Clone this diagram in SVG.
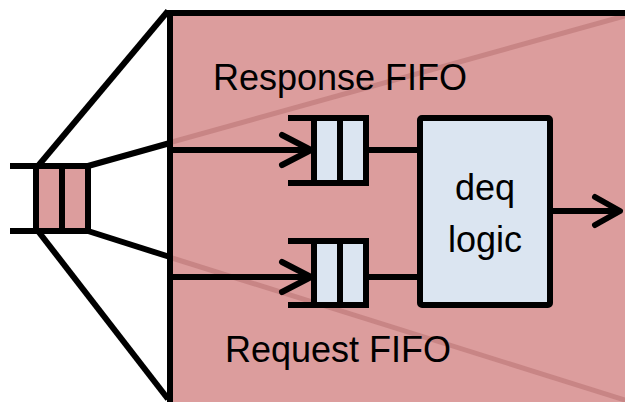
<svg xmlns="http://www.w3.org/2000/svg" width="625" height="402" viewBox="0 0 625 402">
<style>
.ln{stroke:#000;stroke-width:6;fill:none;stroke-linejoin:miter}
.ah{stroke:#000;stroke-width:6;fill:none;stroke-linecap:round;stroke-linejoin:round}
.pk{fill:#DC9D9D}
.bl{fill:#DBE5F1}
.diag{stroke:#C88585;stroke-width:5;fill:none}
.t{font-family:"Liberation Sans",Arial,sans-serif;font-size:36px;fill:#000}
</style>
<g id="region">
<rect class="pk" x="170" y="13" width="460" height="395"/>
<line class="diag" x1="172" y1="142" x2="628" y2="15"/>
<line class="diag" x1="172" y1="258" x2="628" y2="401"/>
<polyline class="ln" points="170,405 170,13 628,13"/>
<text class="t" x="213" y="90">Response FIFO</text>
<text class="t" x="225" y="362">Request FIFO</text>
</g>
<g id="input-fifo">
<rect class="pk" x="36" y="166" width="52" height="65"/>
<line class="ln" x1="10" y1="166" x2="91" y2="166"/>
<line class="ln" x1="10" y1="231" x2="91" y2="231"/>
<line class="ln" x1="36" y1="166" x2="36" y2="231"/>
<line class="ln" x1="62" y1="166" x2="62" y2="231"/>
<line class="ln" x1="88" y1="166" x2="88" y2="231"/>
</g>
<g id="response-fifo">
<rect class="bl" x="314" y="118" width="52" height="65"/>
<line class="ln" x1="288" y1="118" x2="369" y2="118"/>
<line class="ln" x1="288" y1="183" x2="369" y2="183"/>
<line class="ln" x1="314" y1="118" x2="314" y2="183"/>
<line class="ln" x1="340" y1="118" x2="340" y2="183"/>
<line class="ln" x1="366" y1="118" x2="366" y2="183"/>
</g>
<g id="request-fifo">
<rect class="bl" x="314" y="241" width="52" height="64"/>
<line class="ln" x1="288" y1="241" x2="369" y2="241"/>
<line class="ln" x1="288" y1="305" x2="369" y2="305"/>
<line class="ln" x1="314" y1="241" x2="314" y2="305"/>
<line class="ln" x1="340" y1="241" x2="340" y2="305"/>
<line class="ln" x1="366" y1="241" x2="366" y2="305"/>
</g>
<g id="deq-logic">
<rect class="bl" x="420" y="118" width="130" height="187" rx="2" stroke="#000" stroke-width="6"/>
<text class="t" x="485" y="200" text-anchor="middle">deq</text>
<text class="t" x="485" y="252" text-anchor="middle">logic</text>
</g>
<g id="connectors">
<line class="ln" x1="38" y1="166" x2="168" y2="11"/>
<line class="ln" x1="38" y1="231" x2="168" y2="399"/>
<line class="ln" x1="88" y1="166" x2="170" y2="143"/>
<line class="ln" x1="88" y1="231" x2="170" y2="257"/>
<line class="ln" x1="170" y1="150" x2="311" y2="150"/>
<polyline class="ah" points="282,135 311,150 282,165"/>
<line class="ln" x1="170" y1="277" x2="311" y2="277"/>
<polyline class="ah" points="282,262 311,277 282,292"/>
<line class="ln" x1="366" y1="150" x2="420" y2="150"/>
<line class="ln" x1="366" y1="277" x2="420" y2="277"/>
<line class="ln" x1="550" y1="211" x2="620" y2="211"/>
<polyline class="ah" points="595,197 620,211 595,225"/>
</g>
</svg>
